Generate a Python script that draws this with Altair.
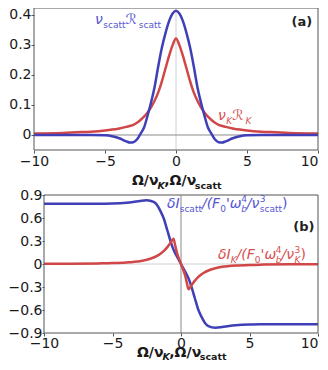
import altair as alt
import pandas as pd

FONT = "DejaVu Sans"
BLUE = "#3f3fb8"
RED = "#d14646"
BLUE_T = "#5656d2"
RED_T = "#d84f4f"

# ---- panel (a) data ----
a_blue_x = [-10, -8, -7, -6, -5, -4.5, -4, -3.5, -3.25, -3, -2.75, -2.5, -2.25, -2, -1.75, -1.5, -1.25, -1, -0.75, -0.5, -0.25, 0,
            0.25, 0.5, 0.75, 1, 1.25, 1.5, 1.75, 2, 2.25, 2.5, 2.75, 3, 3.25, 3.5, 4, 4.5, 5, 6, 7, 8, 10]
a_blue_y = [0, 0, 0, 0, -0.001, -0.004, -0.011, -0.021, -0.025, -0.024, -0.015, 0.004, 0.025, 0.065, 0.11, 0.162, 0.229, 0.29, 0.338, 0.378, 0.404, 0.414,
            0.404, 0.378, 0.338, 0.29, 0.229, 0.162, 0.11, 0.065, 0.025, 0.004, -0.015, -0.024, -0.025, -0.021, -0.011, -0.004, -0.001, 0, 0, 0, 0]
a_red_x = [-10, -8, -7, -6, -5, -4.5, -4, -3.5, -3.25, -3, -2.75, -2.5, -2.25, -2, -1.75, -1.5, -1.25, -1, -0.75, -0.5, -0.25, 0,
           0.25, 0.5, 0.75, 1, 1.25, 1.5, 1.75, 2, 2.25, 2.5, 2.75, 3, 3.25, 3.5, 4, 4.5, 5, 6, 7, 8, 10]
a_red_y = [0.005, 0.007, 0.009, 0.011, 0.015, 0.018, 0.022, 0.027, 0.030, 0.034, 0.041, 0.050, 0.061, 0.075, 0.093, 0.115, 0.142, 0.178, 0.220, 0.262, 0.298, 0.322,
           0.298, 0.262, 0.220, 0.178, 0.142, 0.115, 0.093, 0.075, 0.061, 0.050, 0.041, 0.034, 0.030, 0.027, 0.022, 0.018, 0.015, 0.011, 0.009, 0.007, 0.005]

# ---- panel (b) data ----
b_blue_x = [-10, -8, -6, -5, -4, -3.5, -3, -2.5, -2, -1.75, -1.5, -1.25, -1, -0.75, -0.6, -0.45, -0.3, -0.15, 0,
            0.15, 0.3, 0.45, 0.6, 0.75, 1, 1.25, 1.5, 1.75, 2, 2.5, 3, 3.5, 4, 5, 6, 8, 10]
b_blue_y = [0.785, 0.785, 0.787, 0.79, 0.80, 0.81, 0.823, 0.832, 0.81, 0.77, 0.69, 0.59, 0.44, 0.29, 0.21, 0.15, 0.10, 0.05, 0,
            -0.05, -0.10, -0.15, -0.21, -0.29, -0.44, -0.59, -0.69, -0.77, -0.81, -0.832, -0.823, -0.81, -0.80, -0.79, -0.787, -0.785, -0.785]
b_red_x = [-10, -8, -6, -5, -4, -3.5, -3, -2.5, -2, -1.75, -1.5, -1.25, -1, -0.75, -0.55, -0.42, -0.3, -0.15, 0,
           0.15, 0.3, 0.42, 0.55, 0.75, 1, 1.25, 1.5, 1.75, 2, 2.5, 3, 3.5, 4, 5, 6, 8, 10]
b_red_y = [0.002, 0.004, 0.008, 0.012, 0.02, 0.027, 0.037, 0.055, 0.085, 0.105, 0.135, 0.17, 0.22, 0.28, 0.33, 0.24, 0.15, 0.07, 0,
           -0.07, -0.15, -0.24, -0.33, -0.28, -0.22, -0.17, -0.135, -0.105, -0.085, -0.055, -0.037, -0.027, -0.02, -0.012, -0.008, -0.004, -0.002]

x_ticks = [-10, -5, 0, 5, 10]
a_y_ticks = [0, 0.1, 0.2, 0.3, 0.4]
b_y_ticks = [-0.9, -0.6, -0.3, 0, 0.3, 0.6, 0.9]

# label texts: (text, role, italic)
lab_a_blue = [("ν", "n", True), ("scatt", "sub", False), ("ℛ", "n", False), ("scatt", "sub", False)]
lab_a_red = [("ν", "n", True), ("K", "sub", True), ("ℛ", "n", False), ("K", "sub", True)]
lab_title = [("Ω/ν", "n", False), ("K", "sub", True), (",Ω/ν", "n", False), ("scatt", "sub", False)]
lab_b_blue = [("δI", "n", True), ("scatt", "sub", False), ("/(F", "n", True), ("0", "sub", False), ("'ω", "n", True),
              ("4", "supstack", False), ("b", "sub", True), ("/ν", "n", True), ("3", "supstack", False),
              ("scatt", "sub", False), (")", "n", False)]
lab_b_red = [("δI", "n", True), ("K", "sub", True), ("/(F", "n", True), ("0", "sub", False), ("'ω", "n", True),
             ("4", "supstack", False), ("b", "sub", True), ("/ν", "n", True), ("3", "supstack", False),
             ("K", "sub", True), (")", "n", False)]

W = {'ν': 0.592, 'δ': 0.612, 'ω': 0.815, 'Ω': 0.765, 'ℛ': 0.95, 'I': 0.295, 'F': 0.575, 'K': 0.656,
     's': 0.521, 'c': 0.550, 'a': 0.613, 't': 0.392, 'b': 0.635, '0': 0.636, '3': 0.636, '4': 0.636,
     '/': 0.337, '(': 0.390, ')': 0.390, ',': 0.318, "'": 0.275, '.': 0.318}

one = pd.DataFrame({"k": [0]})

# whole drawing area (page minus 8px margins)
VIEW_W, VIEW_H = 312, 354

lab_expr = "datum.value == 0 ? '0' : format(datum.value, '.1f')"
axis_common = dict(domain=False, grid=False, title=None, labelFont=FONT, labelFontSize=14,
                   labelColor="#1a1a1a", tickColor="#555", labelFlush=False, labelOverlap=False)
x_align = alt.condition("datum.value == 10", alt.value("right"), alt.value("center"))


class Panel:
    def __init__(self, xs, ys, xax, yax):
        self.xs, self.ys, self.xax, self.yax = xs, ys, xax, yax

    def X(self, v):
        return alt.XDatum(v, type="quantitative", scale=self.xs, axis=self.xax)

    def Y(self, v):
        return alt.YDatum(v, type="quantitative", scale=self.ys, axis=self.yax)

    def line(self, xs, ys, color):
        df = pd.DataFrame({"x": xs, "y": ys})
        return alt.Chart(df).mark_line(color=color, strokeWidth=2.5, interpolate="monotone").encode(
            x=alt.X("x:Q", scale=self.xs, axis=self.xax),
            y=alt.Y("y:Q", scale=self.ys, axis=self.yax),
        )

    def frame(self, x0, x1, y0, y1):
        return alt.Chart(one).mark_rect(filled=False, stroke="#555", strokeWidth=1).encode(
            x=self.X(x0), x2=alt.X2Datum(x1), y=self.Y(y0), y2=alt.Y2Datum(y1))

    def hrule(self, x0, x1, y, color):
        return alt.Chart(one).mark_rule(color=color, strokeWidth=1).encode(
            x=self.X(x0), x2=alt.X2Datum(x1), y=self.Y(y))

    def vrule(self, x, y0, y1, color):
        return alt.Chart(one).mark_rule(color=color, strokeWidth=1).encode(
            x=self.X(x), y=self.Y(y0), y2=alt.Y2Datum(y1))

    def rich_text(self, pieces, xv, yv, color, main, sub, anchor="left", bold=False, subdy=4):
        items = []
        pos = 0.0
        for text, role, it in pieces:
            size = main if role == "n" else sub
            w = sum(W.get(ch, 0.6) for ch in text) * size * (1.08 if bold else 1.0)
            dy = 0 if role == "n" else (subdy if role == "sub" else -6)
            items.append((text, size, dy, pos, it))
            if role != "supstack":
                pos += w
        shift = -pos / 2 if anchor == "center" else (-pos if anchor == "right" else 0)
        layers = []
        for text, size, dy, dx, it in items:
            layers.append(
                alt.Chart(one).mark_text(
                    text=text, align="left", baseline="alphabetic", dx=dx + shift, dy=dy,
                    fontSize=size, font=FONT, fontStyle="italic" if it else "normal",
                    fontWeight="bold" if bold else "normal", color=color,
                ).encode(x=self.X(xv), y=self.Y(yv))
            )
        return layers


# ---- panel (a): plot box x 26..310, y 0..142 inside the drawing area ----
A_LO, A_HI = -0.05, 0.4233
pa = Panel(
    alt.Scale(domain=[-10, 10], range=[26, 310], nice=False, zero=False),
    alt.Scale(domain=[A_LO, A_HI], range=[142, 0], nice=False, zero=False),
    alt.Axis(values=x_ticks, orient="bottom", offset=142 - VIEW_H, tickSize=3, labelPadding=1,
             format="d", labelAlign=x_align, **axis_common),
    alt.Axis(values=a_y_ticks, orient="left", offset=-26, tickSize=3, labelPadding=0,
             labelExpr=lab_expr, **axis_common),
)

panel_a = alt.layer(
    pa.vrule(0, A_LO, A_HI, "#d0d0d0"),
    pa.hrule(-10, 10, 0, "#8a8a8a"),
    pa.line(a_red_x, a_red_y, RED),
    pa.line(a_blue_x, a_blue_y, BLUE),
    pa.frame(-10, 10, A_LO, A_HI),
    *pa.rich_text(lab_a_blue, -5.7, 0.37, BLUE_T, 14, 9),
    *pa.rich_text(lab_a_red, 2.96, 0.05, RED_T, 14, 9),
    *pa.rich_text([("(a)", "n", False)], 9.51, 0.363, "#222", 13, 9, anchor="right", bold=True),
    *pa.rich_text(lab_title, 0, -0.1667, "#1a1a1a", 14, 9.5, anchor="center", bold=True),
)

# ---- panel (b): plot box x 36..310, y 187..325 inside the drawing area ----
B_LO, B_HI = -0.9, 0.9
pb = Panel(
    alt.Scale(domain=[-10, 10], range=[36, 310], nice=False, zero=False),
    alt.Scale(domain=[B_LO, B_HI], range=[325, 187], nice=False, zero=False),
    alt.Axis(values=x_ticks, orient="bottom", offset=325 - VIEW_H, tickSize=3, labelPadding=0,
             format="d", labelAlign=x_align, **axis_common),
    alt.Axis(values=b_y_ticks, orient="left", offset=-36, tickSize=2, labelPadding=0,
             labelExpr=lab_expr, **axis_common),
)

panel_b = alt.layer(
    pb.hrule(-10, 10, 0, "#d0d0d0"),
    pb.vrule(0, B_LO, B_HI, "#8a8a8a"),
    pb.line(b_blue_x, b_blue_y, BLUE),
    pb.line(b_red_x, b_red_y, RED),
    pb.frame(-10, 10, B_LO, B_HI),
    *pb.rich_text(lab_b_blue, -1.02, 0.73, BLUE_T, 14, 9),
    *pb.rich_text(lab_b_red, 2.70, 0.065, RED_T, 14, 9),
    *pb.rich_text([("(b)", "n", False)], 9.64, 0.43, "#222", 13, 9, anchor="right", bold=True),
    *pb.rich_text(lab_title, 0, -1.213, "#1a1a1a", 14, 9.5, anchor="center", bold=True, subdy=3),
)

chart = alt.layer(panel_a, panel_b).resolve_scale(
    x="independent", y="independent"
).resolve_axis(
    x="independent", y="independent"
).properties(
    width=VIEW_W, height=VIEW_H,
    autosize=alt.AutoSizeParams(type="none"),
    padding={"left": 0, "top": 0, "right": 0, "bottom": 0},
    background="white",
).configure_view(stroke=None).configure_axis(
    labelOverlap=False, labelFlush=False, grid=False, domain=False
)

chart.save("out.html", embed_options={"renderer": "svg", "actions": False})
